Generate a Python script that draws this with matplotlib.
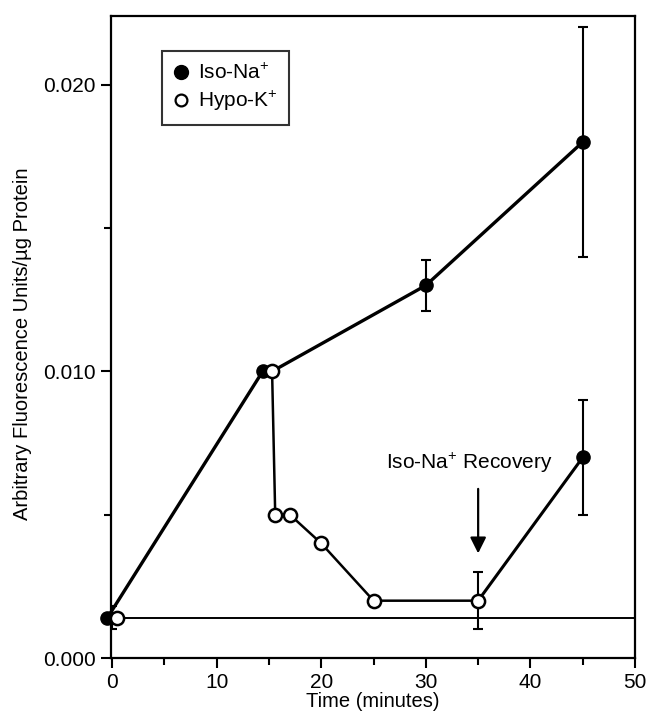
import matplotlib
matplotlib.use("Agg")
import matplotlib.pyplot as plt
from matplotlib.lines import Line2D

plt.rcParams["font.family"] = ["Liberation Sans", "DejaVu Sans"]
plt.rcParams["mathtext.fontset"] = "custom"
plt.rcParams["mathtext.rm"] = "Liberation Sans"
plt.rcParams["mathtext.it"] = "Liberation Sans"
plt.rcParams["mathtext.bf"] = "Liberation Sans"

# ── Data ──────────────────────────────────────────────────────────────────────
iso_t = [-0.45, 14.4, 30, 45]
iso_y = [0.0014, 0.0100, 0.0130, 0.0180]
iso_err = [0.0004, 0.0, 0.0009, 0.0040]

hypo_t = [0.5, 15.3, 15.6, 17, 20, 25, 35]
hypo_y = [0.0014, 0.0100, 0.0050, 0.0050, 0.0040, 0.0020, 0.0020]
hypo_err = [0, 0, 0, 0, 0, 0, 0.0010]

recov_t = [35, 45]
recov_y = [0.0020, 0.0070]
recov_err = [0.0010, 0.0020]

baseline = 0.0014

# ── Figure ────────────────────────────────────────────────────────────────────
fig = plt.figure(figsize=(6.51, 7.25), dpi=100)
ax = fig.add_axes([0.1705, 0.0924, 0.805, 0.8856])

ax.axhline(baseline, color="black", lw=1.4, zorder=1)

eb = dict(fmt="none", ecolor="black", elinewidth=1.5, capsize=3.5, capthick=1.5, zorder=2)

# Iso-Na+ main time course
ax.plot(iso_t[:2] + [hypo_t[1]] + iso_t[2:], iso_y[:2] + [hypo_y[1]] + iso_y[2:],
        color="black", lw=2.4, zorder=2, clip_on=False)
ax.errorbar([0, iso_t[2], iso_t[3]], [iso_y[0], iso_y[2], iso_y[3]],
            yerr=[iso_err[0], iso_err[2], iso_err[3]], **eb)

# Hypo-K+ course
ax.plot(hypo_t[1:], hypo_y[1:], color="black", lw=1.8, zorder=2)
ax.errorbar(hypo_t[-1], hypo_y[-1], yerr=hypo_err[-1], **eb)

# recovery in Iso-Na+
ax.plot(recov_t, recov_y, color="black", lw=2.2, zorder=2)
ax.errorbar(recov_t[1], recov_y[1], yerr=recov_err[1], **eb)

ax.plot(iso_t, iso_y, "o", color="black", ms=9.5, zorder=4, clip_on=False)
ax.plot(recov_t[1], recov_y[1], "o", color="black", ms=9.5, zorder=4)
ax.plot(hypo_t, hypo_y, "o", mfc="white", mec="black", mew=1.8, ms=9.5, zorder=5,
        clip_on=False)

ax.text(34.2, 0.0064, r"Iso-Na$^{+}$ Recovery", ha="center", va="bottom", fontsize=15)
ax.annotate("", xy=(35, 0.00365), xytext=(35, 0.0059),
            arrowprops=dict(arrowstyle="-|>", color="black", lw=1.6,
                            mutation_scale=24, shrinkA=0, shrinkB=0))

# legend
handles = [
    Line2D([0], [0], ls="none", marker="o", color="black", ms=10),
    Line2D([0], [0], ls="none", marker="o", mfc="white", mec="black", mew=1.6, ms=8.5),
]
leg = ax.legend(handles, [r"Iso-Na$^{+}$", r"Hypo-K$^{+}$"], loc="upper left",
                bbox_to_anchor=(0.097, 0.945), fontsize=15, frameon=True,
                fancybox=False, edgecolor="black", handlelength=0.7,
                handletextpad=0.5, borderpad=0.55, labelspacing=0.3,
                borderaxespad=0)
leg.get_frame().set_linewidth(1.5)

ax.set_xlim(-0.1, 50)
ax.set_ylim(0, 0.0224)
ax.set_xticks([0, 10, 20, 30, 40, 50])
ax.set_xticks([5, 15, 25, 35, 45], minor=True)
ax.set_yticks([0.0, 0.010, 0.020])
ax.set_yticklabels(["0.000", "0.010", "0.020"])
ax.set_yticks([0.005, 0.015], minor=True)
ax.tick_params(axis="both", which="major", direction="out", length=7, width=1.5,
               labelsize=15, pad=4)
ax.tick_params(axis="both", which="minor", direction="out", length=5, width=1.5)
for s in ax.spines.values():
    s.set_linewidth(1.6)

ax.set_xlabel("Time (minutes)", fontsize=14.5, labelpad=0)
ax.set_ylabel("Arbitrary Fluorescence Units/\u00b5g Protein", fontsize=14.5,
              labelpad=6)
ax.yaxis.set_label_coords(-0.15, 0.489)

fig.savefig("out.png", dpi=100)
